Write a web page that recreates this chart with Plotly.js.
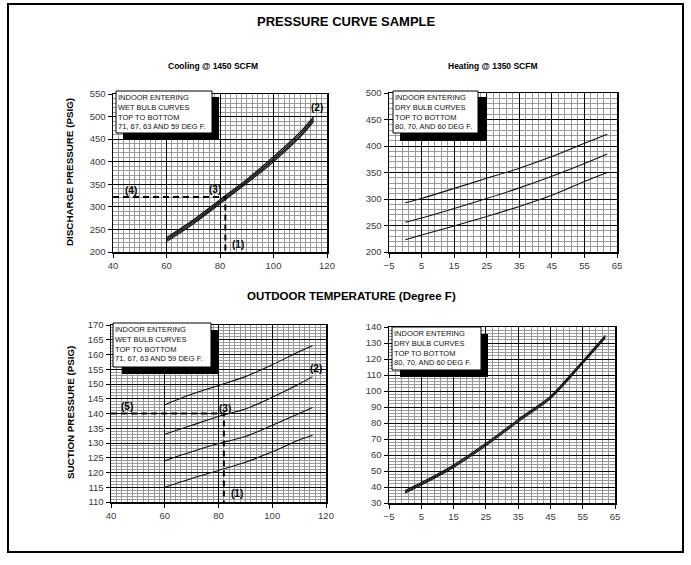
<!DOCTYPE html>
<html>
<head>
<meta charset="utf-8">
<script src="https://cdn.plot.ly/plotly-3.0.1.min.js"></script>
<style>html,body{margin:0;padding:0;background:#fff;}#chart{width:691px;height:565px;}</style>
</head>
<body>
<div id="chart"></div>
<script>
// ---------- DATA ----------
// Cooling discharge (top-left), outdoor temp vs discharge psig, wet bulb 71/67/63/59
const coolTemps = [60, 70, 80, 90, 100, 110, 115];
const coolDischargeWB71 = [232, 271, 316, 361, 411, 466, 500];
const coolDischargeWB67 = [229, 268, 313, 358, 407, 462, 496];
const coolDischargeWB63 = [226, 265, 310, 355, 404, 458, 493];
const coolDischargeWB59 = [223, 262, 307, 352, 400, 455, 489];

// Cooling suction (bottom-left)
const coolSuctionWB71 = [143, 146.5, 149.5, 152.5, 156.5, 161, 163];
const coolSuctionWB67 = [133, 136, 139, 141.5, 145.5, 150, 152.5];
const coolSuctionWB63 = [124, 127, 129.8, 132.2, 136, 140, 142];
const coolSuctionWB59 = [115, 118, 120.7, 123.5, 127, 131, 132.6];

// Heating discharge (top-right), dry bulb 80/70/60
const heatTemps = [0, 5, 15, 25, 35, 45, 55, 62];
const heatDischargeDB80 = [293, 301, 320, 339, 358, 380, 405, 422];
const heatDischargeDB70 = [256, 264, 282, 301, 321, 343, 367, 385];
const heatDischargeDB60 = [223, 232, 249, 267, 286, 307, 333, 350];

// Heating suction (bottom-right)
const heatSuctionDB80 = [37.8, 42.8, 53.8, 67.3, 82.3, 96.8, 118.8, 134.8];
const heatSuctionDB70 = [37, 42, 53, 66.5, 81.5, 96, 118, 134];
const heatSuctionDB60 = [36.2, 41.2, 52.2, 65.7, 80.7, 95.2, 117.2, 133.2];

// Sample reading
const sampleOutdoor = 82;
const sampleDischarge = 322;
const sampleSuction = 140;

// Axis ranges / ticks
const coolXRange = [40, 120];
const heatXRange = [-5, 65];
const coolDischargeRange = [200, 550];
const heatDischargeRange = [200, 500];
const coolSuctionRange = [110, 170];
const heatSuctionRange = [30, 140];

// Text
const mainTitle = "PRESSURE CURVE SAMPLE";
const coolTitle = "Cooling @ 1450 SCFM";
const heatTitle = "Heating @ 1350 SCFM";
const xTitle = "OUTDOOR TEMPERATURE (Degree F)";
const dischargeTitle = "DISCHARGE PRESSURE (PSIG)";
const suctionTitle = "SUCTION PRESSURE (PSIG)";
const wetBulbNote = "INDOOR ENTERING<br>WET BULB CURVES<br>TOP TO BOTTOM<br>71, 67, 63 AND 59 DEG F.";
const dryBulbNote = "INDOOR ENTERING<br>DRY BULB CURVES<br>TOP TO BOTTOM<br>80, 70, AND 60 DEG F.";

// ---------- LAYOUT HELPERS ----------
const W = 691, H = 565;
const px = x => x / W;
const py = y => 1 - y / H;
const FONT = "Liberation Sans, Arial, sans-serif";

function axisX(d0, d1, range, dtick, tick0, minorDtick, anchor) {
  return {
    domain: [px(d0), px(d1)], range: range, anchor: anchor,
    tickmode: 'linear', dtick: dtick, tick0: tick0,
    showgrid: true, gridcolor: '#000', gridwidth: 1,
    minor: {dtick: minorDtick, tick0: tick0, showgrid: true, gridcolor: '#9a9a9a', gridwidth: 1},
    showline: true, mirror: true, linecolor: '#000', linewidth: 1.5,
    ticks: 'outside', ticklen: 4, tickcolor: '#000',
    tickfont: {size: 9.5, color: '#3a3a3a', family: FONT},
    zeroline: false, fixedrange: true
  };
}
function axisY(d0, d1, range, dtick, minorDtick, anchor) {
  return {
    domain: [py(d1), py(d0)], range: range, anchor: anchor,
    tickmode: 'linear', dtick: dtick, tick0: range[0],
    showgrid: true, gridcolor: '#000', gridwidth: 1,
    minor: {dtick: minorDtick, tick0: range[0], showgrid: true, gridcolor: '#9a9a9a', gridwidth: 1},
    showline: true, mirror: true, linecolor: '#000', linewidth: 1.5,
    ticks: 'outside', ticklen: 4, tickcolor: '#000',
    tickfont: {size: 9.5, color: '#3a3a3a', family: FONT},
    zeroline: false, fixedrange: true
  };
}

function curve(x, y, xa, ya) {
  return {x: x, y: y, xaxis: xa, yaxis: ya, type: 'scatter', mode: 'lines',
          line: {color: '#111', width: 1.1, shape: 'spline', smoothing: 0.8},
          hoverinfo: 'skip', showlegend: false};
}
function dashed(x, y, xa, ya) {
  return {x: x, y: y, xaxis: xa, yaxis: ya, type: 'scatter', mode: 'lines',
          line: {color: '#000', width: 2, dash: '6px,4px'},
          hoverinfo: 'skip', showlegend: false};
}

const traces = [
  curve(coolTemps, coolDischargeWB71, 'x', 'y'),
  curve(coolTemps, coolDischargeWB67, 'x', 'y'),
  curve(coolTemps, coolDischargeWB63, 'x', 'y'),
  curve(coolTemps, coolDischargeWB59, 'x', 'y'),
  dashed([coolXRange[0], sampleOutdoor, sampleOutdoor], [sampleDischarge, sampleDischarge, coolDischargeRange[0]], 'x', 'y'),

  curve(heatTemps, heatDischargeDB80, 'x2', 'y2'),
  curve(heatTemps, heatDischargeDB70, 'x2', 'y2'),
  curve(heatTemps, heatDischargeDB60, 'x2', 'y2'),

  curve(coolTemps, coolSuctionWB71, 'x3', 'y3'),
  curve(coolTemps, coolSuctionWB67, 'x3', 'y3'),
  curve(coolTemps, coolSuctionWB63, 'x3', 'y3'),
  curve(coolTemps, coolSuctionWB59, 'x3', 'y3'),
  dashed([coolXRange[0], sampleOutdoor, sampleOutdoor], [sampleSuction, sampleSuction, coolSuctionRange[0]], 'x3', 'y3'),

  curve(heatTemps, heatSuctionDB80, 'x4', 'y4'),
  curve(heatTemps, heatSuctionDB70, 'x4', 'y4'),
  curve(heatTemps, heatSuctionDB60, 'x4', 'y4')
];

function noteBox(x0, y0, x1, y1, sx0, sy0, sx1, sy1) {
  return [
    {type: 'rect', xref: 'paper', yref: 'paper', x0: px(sx0), x1: px(sx1), y0: py(sy1), y1: py(sy0),
     fillcolor: '#000', line: {width: 0}, layer: 'above'},
    {type: 'rect', xref: 'paper', yref: 'paper', x0: px(x0), x1: px(x1), y0: py(y1), y1: py(y0),
     fillcolor: '#fff', line: {color: '#000', width: 1}, layer: 'above'}
  ];
}

const shapes = [
  {type: 'rect', xref: 'paper', yref: 'paper', x0: px(8), x1: px(683), y0: py(552), y1: py(4),
   line: {color: '#000', width: 2}, fillcolor: 'rgba(0,0,0,0)'},
  ...noteBox(116, 91, 212, 133, 123, 97, 219, 140),
  ...noteBox(393, 91, 478, 133, 400, 97, 486, 141),
  ...noteBox(113, 323, 211, 367, 122, 330, 218, 374),
  ...noteBox(392, 327, 481, 370, 400, 334, 488, 377)
];

function txt(text, x, y, size, bold, opts) {
  return Object.assign({
    text: bold ? '<b>' + text + '</b>' : text, xref: 'paper', yref: 'paper',
    x: px(x), y: py(y), showarrow: false, xanchor: 'center', yanchor: 'middle',
    font: {size: size, color: '#000', family: FONT}
  }, opts || {});
}
function note(text, x, y) {
  return txt(text, x, y, 7.5, false, {xanchor: 'left', yanchor: 'top', align: 'left',
    font: {size: 7.5, color: '#111', family: FONT}});
}

const annotations = [
  txt(mainTitle, 347, 22, 13, true),
  txt(coolTitle, 213, 66, 8.5, true),
  txt(heatTitle, 493, 66, 8.5, true),
  txt(xTitle, 352, 296, 11.5, true),
  txt(dischargeTitle, 70, 172, 9.8, true, {textangle: -90}),
  txt(suctionTitle, 70, 413, 9.8, true, {textangle: -90}),
  note(wetBulbNote, 116, 91),
  note(dryBulbNote, 393, 91),
  note(wetBulbNote, 113, 323),
  note(dryBulbNote, 392, 327),
  txt('(2)', 317, 108, 10, true),
  txt('(3)', 215, 189, 10, true),
  txt('(4)', 131, 190, 10, true),
  txt('(1)', 238, 244, 10, true),
  txt('(5)', 127, 406, 10, true),
  txt('(3)', 225, 408, 10, true),
  txt('(2)', 316, 369, 10, true),
  txt('(1)', 237, 493, 10, true)
];

const layout = {
  width: W, height: H, margin: {l: 0, r: 0, t: 0, b: 0},
  paper_bgcolor: '#fff', plot_bgcolor: '#fff', showlegend: false,
  font: {family: FONT},
  xaxis: axisX(113, 327, coolXRange, 20, 40, 2, 'y'),
  yaxis: axisY(94, 252, coolDischargeRange, 50, 10, 'x'),
  xaxis2: axisX(389, 617, heatXRange, 10, -5, 2, 'y2'),
  yaxis2: axisY(93, 252, heatDischargeRange, 50, 10, 'x2'),
  xaxis3: axisX(111, 326, coolXRange, 20, 40, 2, 'y3'),
  yaxis3: axisY(325, 502, coolSuctionRange, 5, 1, 'x3'),
  xaxis4: axisX(389, 615, heatXRange, 10, -5, 2, 'y4'),
  yaxis4: axisY(327, 503, heatSuctionRange, 10, 2, 'x4'),
  shapes: shapes,
  annotations: annotations
};

Plotly.newPlot('chart', traces, layout, {staticPlot: true, displayModeBar: false});
</script>
</body>
</html>
